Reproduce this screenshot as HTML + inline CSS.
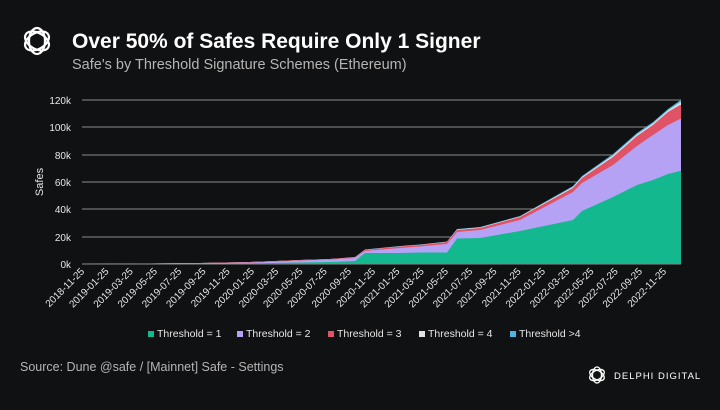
<!DOCTYPE html>
<html><head><meta charset="utf-8"><style>
html,body{margin:0;padding:0;background:#101113;}
body{width:720px;height:405px;overflow:hidden;font-family:"Liberation Sans",sans-serif;}
</style></head><body>
<svg width="720" height="405" xmlns="http://www.w3.org/2000/svg" font-family="Liberation Sans, sans-serif">
<rect width="720" height="405" fill="#101113"/>
<g fill="none" stroke="#fff" stroke-width="2.2">
<ellipse cx="37" cy="41" rx="8" ry="13" transform="rotate(0 37 41)"/>
<ellipse cx="37" cy="41" rx="8" ry="13" transform="rotate(60 37 41)"/>
<ellipse cx="37" cy="41" rx="8" ry="13" transform="rotate(120 37 41)"/>
</g>
<text x="72" y="48" fill="#fff" font-size="21" font-weight="bold">Over 50% of Safes Require Only 1 Signer</text>
<text x="72" y="69" fill="#b5b5b5" font-size="14.5">Safe's by Threshold Signature Schemes (Ethereum)</text>
<g stroke="#8a8a8a" stroke-width="1">
<line x1="82" x2="681" y1="100" y2="100"/><line x1="82" x2="681" y1="127" y2="127"/>
<line x1="82" x2="681" y1="155" y2="155"/><line x1="82" x2="681" y1="182" y2="182"/>
<line x1="82" x2="681" y1="209" y2="209"/><line x1="82" x2="681" y1="237" y2="237"/>
<line x1="82" x2="681" y1="264" y2="264"/>
</g>
<g fill="#e6e6e6" font-size="10" text-anchor="end">
<text x="71" y="104">120k</text><text x="71" y="131">100k</text><text x="71" y="159">80k</text>
<text x="71" y="186">60k</text><text x="71" y="213">40k</text><text x="71" y="241">20k</text><text x="71" y="268">0k</text>
</g>
<text transform="translate(43,182) rotate(-90)" fill="#e6e6e6" font-size="11" text-anchor="middle">Safes</text>
<polygon fill="#4fb3e0" points="82,264 150,263.5 200,263 250,262 300,260 330,259 355,257 365,249.5 400,246 420,244.5 447,241.5 457,229 480,227 520,216 573,186 582,176 613,154 637,133 653,122 668,109 680,100.5 681,100.5 681,264"/>
<polygon fill="#e0e0e0" points="82,264 150,263.5 200,263 250,262 300,260 330,259 355,257.2 365,249.8 400,246.3 420,244.8 447,241.8 457,229.5 480,227.5 520,216.5 573,187 582,177 613,155.5 637,134.5 653,123.5 668,110.5 680,102.5 681,102.5 681,264"/>
<polygon fill="#e05265" points="82,264 150,263.5 200,263 250,262 300,260 330,259 355,257.5 365,250 400,246.5 420,245 447,242 457,230 480,228 520,217 573,188 582,178 613,157 637,136 653,125 668,112 680,105 681,105 681,264"/>
<polygon fill="#b5a2f5" points="82,264 150,263.7 200,263.3 250,262.5 300,260.5 330,259.5 355,258 365,251 400,248 420,246.5 447,244 457,232 480,230 520,220 573,192 582,183 613,165 637,146 653,135 668,125 680,119 681,119 681,264"/>
<polygon fill="#14b88f" points="82,264 150,264 200,263.8 250,263.5 300,262.5 330,262 355,261 365,253 400,253 420,252.5 447,252.5 457,238.5 480,238 520,231 573,220 582,211 613,197 637,185 653,180 668,174 680,171 681,171 681,264"/>
<g fill="#e6e6e6" font-size="10" text-anchor="end">
<text transform="translate(85,272) rotate(-45)">2018-11-25</text>
<text transform="translate(109.25,272) rotate(-45)">2019-01-25</text>
<text transform="translate(133.5,272) rotate(-45)">2019-03-25</text>
<text transform="translate(157.75,272) rotate(-45)">2019-05-25</text>
<text transform="translate(182,272) rotate(-45)">2019-07-25</text>
<text transform="translate(206.25,272) rotate(-45)">2019-09-25</text>
<text transform="translate(230.5,272) rotate(-45)">2019-11-25</text>
<text transform="translate(254.75,272) rotate(-45)">2020-01-25</text>
<text transform="translate(279,272) rotate(-45)">2020-03-25</text>
<text transform="translate(303.25,272) rotate(-45)">2020-05-25</text>
<text transform="translate(327.5,272) rotate(-45)">2020-07-25</text>
<text transform="translate(351.75,272) rotate(-45)">2020-09-25</text>
<text transform="translate(376,272) rotate(-45)">2020-11-25</text>
<text transform="translate(400.25,272) rotate(-45)">2021-01-25</text>
<text transform="translate(424.5,272) rotate(-45)">2021-03-25</text>
<text transform="translate(448.75,272) rotate(-45)">2021-05-25</text>
<text transform="translate(473,272) rotate(-45)">2021-07-25</text>
<text transform="translate(497.25,272) rotate(-45)">2021-09-25</text>
<text transform="translate(521.5,272) rotate(-45)">2021-11-25</text>
<text transform="translate(545.75,272) rotate(-45)">2022-01-25</text>
<text transform="translate(570,272) rotate(-45)">2022-03-25</text>
<text transform="translate(594.25,272) rotate(-45)">2022-05-25</text>
<text transform="translate(618.5,272) rotate(-45)">2022-07-25</text>
<text transform="translate(642.75,272) rotate(-45)">2022-09-25</text>
<text transform="translate(667,272) rotate(-45)">2022-11-25</text>
</g>
<g font-size="10.5" fill="#e6e6e6">
<rect x="148" y="331" width="6" height="6" fill="#14b88f"/><text x="157" y="337">Threshold = 1</text>
<rect x="237" y="331" width="6" height="6" fill="#b5a2f5"/><text x="246" y="337">Threshold = 2</text>
<rect x="328" y="331" width="6" height="6" fill="#e05265"/><text x="337" y="337">Threshold = 3</text>
<rect x="419" y="331" width="6" height="6" fill="#e0e0e0"/><text x="428" y="337">Threshold = 4</text>
<rect x="510" y="331" width="6" height="6" fill="#4fb3e0"/><text x="519" y="337">Threshold &gt;4</text>
</g>
<text x="20" y="371" fill="#b5b5b5" font-size="12.5">Source: Dune @safe / [Mainnet] Safe - Settings</text>
<g fill="none" stroke="#fff" stroke-width="1.3">
<ellipse cx="597" cy="375" rx="4.5" ry="8"/>
<ellipse cx="597" cy="375" rx="4.5" ry="8" transform="rotate(60 597 375)"/>
<ellipse cx="597" cy="375" rx="4.5" ry="8" transform="rotate(120 597 375)"/>
</g>
<text x="614" y="379" fill="#fff" font-size="9.5" letter-spacing="1">DELPHI DIGITAL</text>
</svg>
</body></html>
